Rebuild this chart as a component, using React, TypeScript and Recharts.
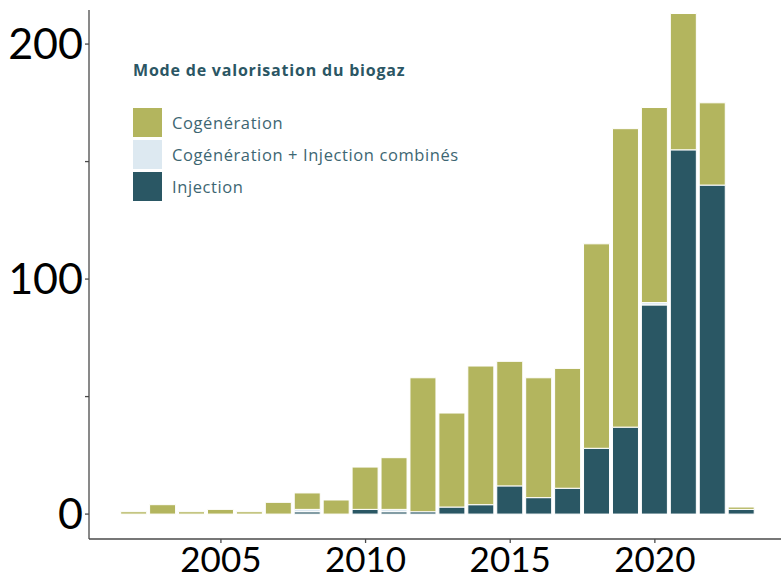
import React from 'react';
import { BarChart, Bar, XAxis, YAxis, Legend } from 'recharts';

const years = [2002, 2003, 2004, 2005, 2006, 2007, 2008, 2009, 2010, 2011, 2012, 2013, 2014, 2015, 2016, 2017, 2018, 2019, 2020, 2021, 2022, 2023];
const injection = [0, 0, 0, 0, 0, 0, 1, 0, 2, 1, 1, 3, 4, 12, 7, 11, 28, 37, 89, 155, 140, 2];
const combined = [0, 0, 0, 0, 0, 0, 1, 0, 0, 1, 0, 0, 0, 0, 0, 0, 0, 0, 1, 0, 0, 0];
const cogeneration = [1, 4, 1, 2, 1, 5, 7, 6, 18, 22, 57, 40, 59, 53, 51, 51, 87, 127, 83, 58, 35, 1];
const xTicks = [2005, 2010, 2015, 2020];
const yTicks = [0, 50, 100, 150, 200];
const yLabels = [0, 100, 200];

const seriesNames = {
  cogeneration: 'Cogénération',
  combined: 'Cogénération + Injection combinés',
  injection: 'Injection',
};
const colors = {
  cogeneration: '#b3b55e',
  combined: '#dde9f1',
  injection: '#2a5764',
};

const data = years.map((y, i) => ({
  year: y,
  injection: injection[i],
  combined: combined[i],
  cogeneration: cogeneration[i],
}));

const LegendBox = () => {
  const items = ['cogeneration', 'combined', 'injection'];
  return (
    <div style={{ fontFamily: 'Open Sans, sans-serif', textAlign: 'left' }}>
      <div style={{ fontWeight: 700, fontSize: 16, letterSpacing: 0.8, color: '#2b5664', marginBottom: 26, lineHeight: '20px' }}>
        Mode de valorisation du biogaz
      </div>
      {items.map((k) => (
        <div key={k} style={{ display: 'flex', alignItems: 'center', height: 32 }}>
          <div style={{ width: 29, height: 29, background: colors[k], marginRight: 10 }} />
          <span style={{ fontSize: 16.5, letterSpacing: 0.6, color: '#3d6672' }}>{seriesNames[k]}</span>
        </div>
      ))}
    </div>
  );
};

export default function App() {
  return (
    <div style={{ position: 'absolute', left: 0, top: 0, background: '#fff' }}>
      <BarChart width={783} height={583} data={data} margin={{ top: 10, right: 2, bottom: 0, left: 0 }}>
        <XAxis
          dataKey="year"
          type="number"
          domain={[2000.44, 2024.36]}
          allowDataOverflow
          ticks={xTicks}
          height={44}
          tickSize={4}
          tickMargin={4}
          stroke="#4a4a4a"
          strokeWidth={1.3}
          tick={{ fill: '#000', fontSize: 35, fontFamily: 'Lato, sans-serif' }}
        />
        <YAxis
          type="number"
          domain={[-10.6, 214.5]}
          allowDataOverflow
          ticks={yTicks}
          width={89}
          tickSize={4}
          tickMargin={2}
          interval={0}
          stroke="#4a4a4a"
          strokeWidth={1.3}
          tickFormatter={(v) => (yLabels.includes(v) ? String(v) : '')}
          tick={{ fill: '#000', fontSize: 43, fontFamily: 'Lato, sans-serif' }}
        />
        <Legend
          layout="horizontal"
          verticalAlign="middle"
          align="center"
          content={<LegendBox />}
          wrapperStyle={{ left: 133, top: 60, width: 360 }}
        />
        <Bar dataKey="injection" stackId="a" name={seriesNames.injection} fill={colors.injection} stroke="#fff" strokeWidth={1} barSize={26} isAnimationActive={false} />
        <Bar dataKey="combined" stackId="a" name={seriesNames.combined} fill={colors.combined} stroke="#fff" strokeWidth={1} barSize={26} isAnimationActive={false} />
        <Bar dataKey="cogeneration" stackId="a" name={seriesNames.cogeneration} fill={colors.cogeneration} stroke="#fff" strokeWidth={1} barSize={26} isAnimationActive={false} />
      </BarChart>
    </div>
  );
}
